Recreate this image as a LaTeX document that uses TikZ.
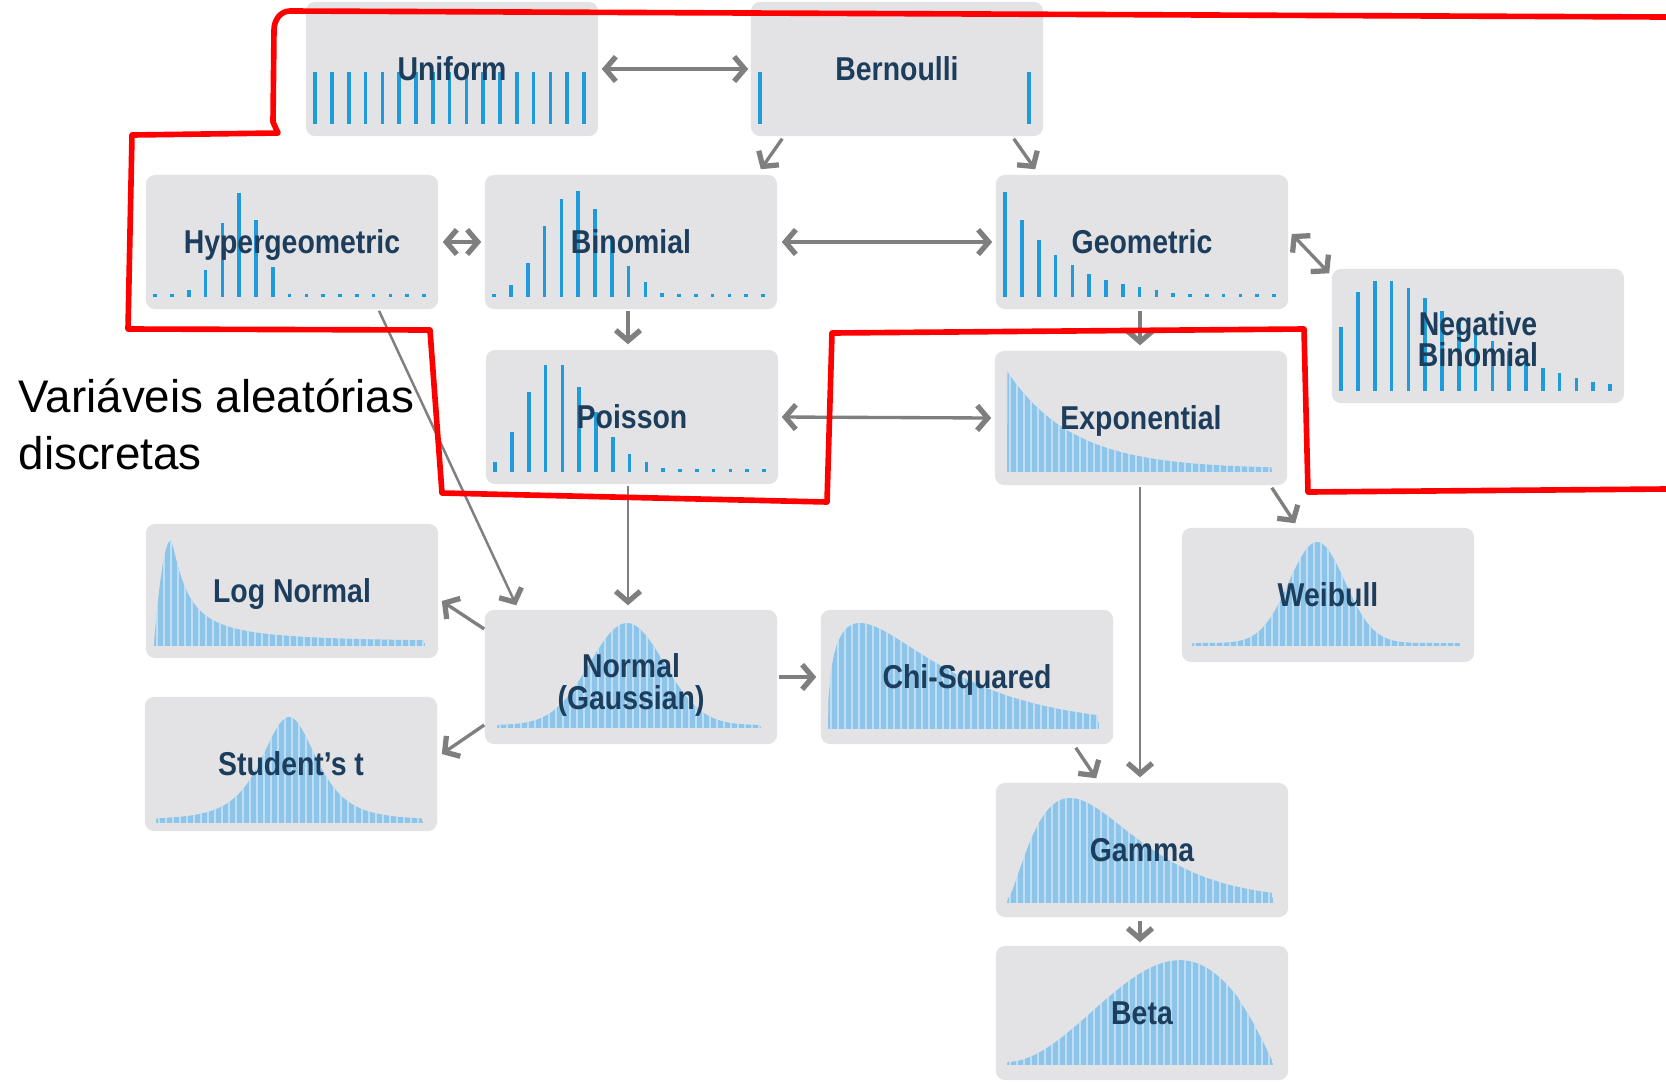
\documentclass[tikz,border=0pt]{standalone}
\usepackage{fontspec}
\setmainfont{Liberation Sans}
\newfontfamily\boxfont{Liberation Sans}[FakeStretch=0.86]
\usepackage{xcolor}
\usetikzlibrary{arrows.meta,calc}

\definecolor{boxgray}{HTML}{E3E3E5}
\definecolor{txtblue}{HTML}{1D3D5C}
\definecolor{barblue}{HTML}{1E9BD9}
\definecolor{curvblue}{HTML}{8DC4EA}
\definecolor{arrgray}{HTML}{7F7F7F}

\tikzset{
  distbox/.style={fill=boxgray, rounded corners=0.09cm, minimum width=2.92cm,
    minimum height=1.34cm, inner sep=0pt},
  distlbl/.style={text=txtblue, font=\boxfont\bfseries\fontsize{9.4}{9}\selectfont,
    align=center, inner sep=0pt},
  onelbl/.style={distlbl, text height=6.7pt, text depth=0pt},
  dbar/.style={draw=barblue, line width=1pt},
  cfill/.style={fill=curvblue},
  cstripe/.style={draw=white, opacity=0.45, line width=0.35pt},
  link/.style={draw=arrgray, line width=0.95pt},
  redline/.style={draw=red, line width=1.6pt, line join=round},
}

% discrete bars: node, list of heights (17 slots)
\newcommand{\dbars}[2]{%
  \foreach \h [count=\i from 0] in {#2}
    {\ifnum\h>0 \draw[dbar] ($(#1.south west)+(10+16.8*\i,-13)$) -- ++(0,-\h);\fi}}

% density: x0, x1, baseline, height, f(\x)
\newcommand{\cdens}[5]{%
  \begin{scope}
    \clip (#1,#3) -- plot[domain=#1+0.5:#2-0.5, samples=100] (\x,{#3-#4*(#5)-3}) -- (#2,#3) -- cycle;
    \fill[cfill] (#1,#3-#4-10) rectangle (#2,#3);
    \foreach \k in {0,...,40} \draw[cstripe] ({#1+3+7*\k},#3-#4-10) -- ++(0,#4+12);
  \end{scope}}

\begin{document}
\begin{tikzpicture}[x=0.01cm, y=-0.01cm,
  >={Straight Barb[length=3pt,width=7pt,line width=1.5pt]}]
  \useasboundingbox (0,0) rectangle (1666,1081);

  % boxes
  \node[distbox] (unif)    at (452,69)   {};
  \node[distbox] (bern)    at (897,69)   {};
  \node[distbox] (hyper)   at (292,242)  {};
  \node[distbox] (binom)   at (631,242)  {};
  \node[distbox] (geom)    at (1142,242) {};
  \node[distbox] (negbin)  at (1478,336) {};
  \node[distbox] (poisson) at (632,417)  {};
  \node[distbox] (expon)   at (1141,418) {};
  \node[distbox] (lognorm) at (292,591)  {};
  \node[distbox] (weibull) at (1328,595) {};
  \node[distbox] (normal)  at (631,677)  {};
  \node[distbox] (chisq)   at (967,677)  {};
  \node[distbox] (student) at (291,764)  {};
  \node[distbox] (gamma)   at (1142,850) {};
  \node[distbox] (beta)    at (1142,1013){};

  % discrete
  \dbars{unif}{52,52,52,52,52,52,52,52,52,52,52,52,52,52,52,52,52}
  \dbars{bern}{52,0,0,0,0,0,0,0,0,0,0,0,0,0,0,0,52}
  \dbars{hyper}{3,3,7,27,74,104,77,30,3,3,3,3,3,3,3,3,3}
  \dbars{binom}{3,12,34,71,98,106,88,60,31,15,4,3,3,3,3,3,3}
  \dbars{poisson}{10,40,80,107,107,85,60,35,18,10,4,3,3,3,3,3,3}
  \dbars{geom}{105,77,57,42,32,23,17,13,10,7,4,3,3,3,3,3,3}
  \dbars{negbin}{64,99,110,110,103,93,80,70,60,50,40,28,23,18,13,9,7}

  % continuous
  \cdens{1007}{1272}{472}{98}{exp(-(\x-1007)/65)}
  \cdens{154}{425}{646}{103}{ifthenelse(\x<171, ((\x-154)/17)*(2-(\x-154)/17), 1/(1+((abs(\x-171)+0.01)/16)^1.3))}
  \cdens{156}{423}{823}{103}{1/((1+((\x-289)/50.7)*((\x-289)/50.7))^2)}
  \cdens{497}{761}{728}{102}{exp(-((\x-627)/52.6)*((\x-627)/52.6))}
  \cdens{1192}{1460}{646}{101}{exp(-((\x-1317)/39.6)*((\x-1317)/39.6))}
  \cdens{828}{1099}{729}{103}{((\x-828)/32*exp(1-(\x-828)/32))^0.424}
  \cdens{1007}{1273}{903}{102}{((\x-1007)/63*exp(1-(\x-1007)/63))^1.5}
  \cdens{1007}{1273}{1065}{102}{((\x-1007)/266)*((\x-1007)/266)*(1-(\x-1007)/266)^1.08/0.1362}

  % labels
  \node[onelbl] (unif-t)    at (unif)    {Uniform};
  \node[onelbl] (bern-t)    at (bern)    {Bernoulli};
  \node[onelbl] (hyper-t)   at (hyper)   {Hypergeometric};
  \node[onelbl] (binom-t)   at (binom)   {Binomial};
  \node[onelbl] (geom-t)    at (geom)    {Geometric};
  \node[distlbl] (negbin-t) at ($(negbin)+(0,3)$) {Negative\\Binomial};
  \node[onelbl] (poisson-t) at (poisson) {Poisson};
  \node[onelbl] (expon-t)   at (expon)   {Exponential};
  \node[onelbl] (lognorm-t) at (lognorm) {Log Normal};
  \node[onelbl] (weibull-t) at (weibull) {Weibull};
  \node[distlbl] (normal-t) at ($(normal)+(0,8)$) {Normal\\(Gaussian)};
  \node[onelbl] (chisq-t)   at (chisq)   {Chi-Squared};
  \node[onelbl] (student-t) at (student) {Student’s t};
  \node[onelbl] (gamma-t)   at (gamma)   {Gamma};
  \node[onelbl] (beta-t)    at (beta)    {Beta};

  % links
  \draw[link, <->] ($(unif.east)+(3,0)$) -- ($(bern.west)+(-2,0)$);
  \draw[link, ->] ($(bern.south west)+(32,2)$) -- ($(binom.north east)+(-17,-5)$);
  \draw[link, ->] ($(bern.south east)+(-30,2)$) -- ($(geom.north west)+(40,-5)$);
  \draw[link, <->] ($(hyper.east)+(4,0)$) -- ($(binom.west)+(-3,0)$);
  \draw[link, <->] ($(binom.east)+(4,0)$) -- ($(geom.west)+(-3,0)$);
  \draw[link, <->] ($(geom.east)+(3,-8)$) -- ($(negbin.north west)+(-2,5)$);
  \draw[link, ->] ($(binom.south)+(-3,1)$) -- ($(poisson.north)+(-4,-5)$);
  \draw[link, ->] ($(geom.south)+(-2,1)$) -- ($(expon.north)+(-1,-5)$);
  \draw[link, <->] ($(poisson.east)+(3,0)$) -- ($(expon.west)+(-3,0)$);
  \draw[link, line width=0.7pt, ->] ($(hyper.south)+(87,1)$) -- ($(normal.north west)+(32,-4)$);
  \draw[link, line width=0.7pt, ->] ($(poisson.south)+(-4,1)$) -- ($(normal.north)+(-3,-4)$);
  \draw[link, ->] ($(expon.south east)+(-16,2)$) -- ($(weibull.north west)+(114,-4)$);
  \draw[link, line width=0.7pt, ->] ($(expon.south)+(-1,1)$) -- ($(gamma.north)+(-2,-5)$);
  \draw[link, ->] ($(normal.west)+(0,-48)$) -- ($(lognorm.east)+(3,10)$);
  \draw[link, ->] ($(normal.west)+(0,48)$) -- ($(student.east)+(4,-10)$);
  \draw[link, ->] ($(normal.east)+(1,0)$) -- ($(chisq.west)+(-4,0)$);
  \draw[link, ->] ($(chisq.south east)+(-38,3)$) -- ($(gamma.north west)+(101,-4)$);
  \draw[link, ->] ($(gamma.south)+(-2,3)$) -- ($(beta.north)+(-2,-3)$);

  % discrete region outline
  \draw[redline] (1666,17) -- (290,11) to[out=180,in=90] (274,30) -- (273,122)
    -- (278,133) -- (132,135) -- (128,329) -- (430,330) -- (442,493) -- (827,502)
    -- (832,333) -- (1304,329) -- (1308,492) -- (1666,489);

  \node[anchor=west, align=left, inner sep=0pt, font=\fontsize{13}{16.2}\selectfont]
    (rvtext) at (18,424) {Variáveis aleatórias\\discretas};
\end{tikzpicture}
\end{document}
